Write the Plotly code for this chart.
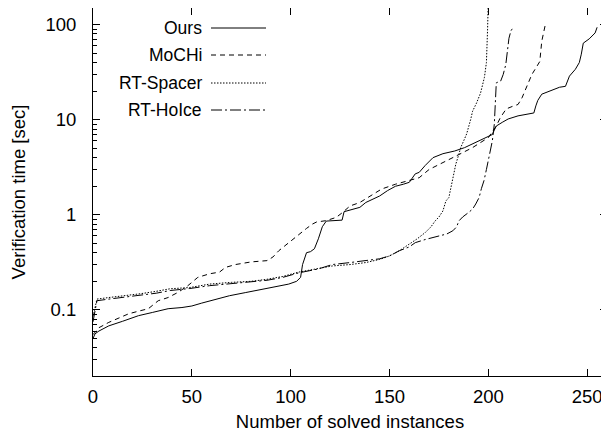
import plotly.graph_objects as go

# ---- data ----
ours_x = [0, 1, 3, 8, 15, 23, 30, 38, 45, 50, 55, 60, 69, 77, 84, 92, 99, 103, 105, 106, 108, 110, 112, 114, 116, 118,
          122, 126, 127, 130, 135, 138, 141, 145, 149, 153, 157, 160, 163, 165, 168, 172, 177, 183, 188, 192, 196, 199,
          202, 203, 204, 207, 210, 215, 219, 223, 224, 225, 227, 232, 236, 239, 240, 241, 244, 246, 247, 248, 251, 254, 255]
ours_y = [0.05, 0.056, 0.06, 0.068, 0.076, 0.087, 0.094, 0.103, 0.106, 0.11, 0.118, 0.126, 0.141, 0.152, 0.163, 0.175,
          0.187, 0.2, 0.22, 0.3, 0.4, 0.41, 0.44, 0.56, 0.75, 0.86, 0.87, 0.88, 1.08, 1.13, 1.2, 1.35, 1.45, 1.58, 1.8,
          2.0, 2.1, 2.2, 2.7, 2.8, 3.3, 4.0, 4.4, 4.7, 5.1, 5.6, 6.1, 6.5, 7.0, 7.8, 8.6, 9.4, 10.2, 11, 11.4, 11.8, 14,
          16, 18.6, 20.5, 22, 22.5, 26, 28.8, 34, 40, 49, 64, 71, 82, 94]

mochi_x = [0, 3, 8, 13, 18, 23, 28, 33, 38, 43, 48, 53, 59, 64, 67, 72, 80, 88, 91, 94, 99, 104, 108, 111, 113, 118,
           123, 126, 130, 135, 141, 146, 153, 160, 165, 170, 175, 180, 185, 192, 196, 200, 202, 204, 206, 209, 212,
           215, 217, 219, 222, 224, 226, 227, 229]
mochi_y = [0.055, 0.065, 0.074, 0.082, 0.091, 0.097, 0.103, 0.125, 0.135, 0.153, 0.18, 0.22, 0.24, 0.25, 0.28, 0.3,
           0.32, 0.33, 0.36, 0.42, 0.51, 0.63, 0.72, 0.8, 0.84, 0.87, 0.94, 1.05, 1.24, 1.35, 1.62, 1.87, 2.1, 2.3,
           2.46, 3.0, 3.4, 3.8, 4.3, 5.1, 5.8, 6.5, 7.5, 8.6, 10.5, 13, 13.8, 14.5, 17, 21.7, 30, 35, 41, 67, 105]

spacer_x = [0, 1, 2, 8, 15, 24, 32, 39, 49, 59, 70, 80, 88, 96, 104, 114, 121, 130, 138, 145, 150, 155, 160, 164, 168,
            171, 173, 175, 177, 178.5, 180, 181, 182, 183.5, 185, 186, 187.5, 189, 191, 192, 194, 196, 198, 199,
            199.6, 200]
spacer_y = [0.085, 0.11, 0.13, 0.135, 0.14, 0.148, 0.157, 0.167, 0.172, 0.187, 0.195, 0.2, 0.21, 0.225, 0.25, 0.27,
            0.29, 0.3, 0.315, 0.34, 0.37, 0.42, 0.49, 0.56, 0.65, 0.75, 0.86, 0.95, 1.1, 1.4, 1.52, 1.9, 2.46, 3.4,
            4.3, 5.1, 6.0, 7.1, 10, 12.3, 15, 19, 28, 40, 90, 200]

hoice_x = [0, 1, 2, 8, 15, 24, 32, 39, 49, 59, 70, 80, 88, 96, 104, 114, 121, 130, 138, 145, 150, 155, 160, 163, 168,
           172, 175, 179, 182, 184, 185, 187, 190, 192, 193.6, 195.3, 196.5, 197.8, 199, 200.3, 201, 202, 203, 203.7,
           204, 205, 206.2, 207.5, 208.8, 210.4, 211.5, 213]
hoice_y = [0.075, 0.1, 0.125, 0.13, 0.135, 0.142, 0.15, 0.16, 0.168, 0.18, 0.19, 0.198, 0.205, 0.22, 0.245, 0.27, 0.3,
           0.315, 0.33, 0.345, 0.37, 0.42, 0.46, 0.51, 0.55, 0.58, 0.6, 0.63, 0.68, 0.75, 0.86, 0.95, 1.06, 1.15, 1.3,
           1.52, 1.9, 2.3, 3.0, 4.0, 5.0, 6.0, 9.0, 15.7, 24.5, 25, 25.5, 30, 38, 72, 88, 92]

series_names = ["Ours", "MoCHi", "RT-Spacer", "RT-HoIce"]
x_ticks = [0, 50, 100, 150, 200, 250]
y_ticks = [0.1, 1, 10, 100]
y_tick_labels = ["0.1", "1", "10", "100"]
y_minor = [m * d for d in (0.01, 0.1, 1, 10) for m in range(2, 10) if 0.02 <= m * d <= 150]

# ---- style ----
FONT = "Liberation Sans, Arial, Helvetica, sans-serif"
FS = 18.5
dashes = ["solid", "5px,4px", "1.5px,1.5px", "11px,3px,2px,3px"]

# the page body has an 8px default margin: figure coordinates = page coordinates - 8
OFF = 8
ML, MR, MT, MB = 93 - OFF, 10, 0, 68
FIG_W, FIG_H = 609, 436
PW = FIG_W - ML - MR
PH = FIG_H - MT - MB

fig = go.Figure()
for name, xs, ys, d in zip(series_names, [ours_x, mochi_x, spacer_x, hoice_x],
                           [ours_y, mochi_y, spacer_y, hoice_y], dashes):
    fig.add_trace(go.Scatter(x=xs, y=ys, mode="lines", name=name,
                             line=dict(color="black", width=1, dash=d), showlegend=False))

# manual gnuplot-style legend (text left, sample right); positions in page pixels
rows_px = [28, 55, 83, 110]
def px_x(p):
    return (p - OFF - ML) / PW
def px_y(p):
    return 1 - (p - OFF - MT) / PH
for name, d, py in zip(series_names, dashes, rows_px):
    yp = px_y(py)
    fig.add_annotation(x=px_x(204), y=yp, xref="paper", yref="paper", text=name, showarrow=False,
                       xanchor="right", yanchor="middle", font=dict(family=FONT, size=17.5, color="black"))
    fig.add_shape(type="line", xref="paper", yref="paper", x0=px_x(211), x1=px_x(266), y0=yp, y1=yp,
                  line=dict(color="black", width=1, dash=d))

axis_common = dict(showline=True, linecolor="black", linewidth=1, mirror="ticks", ticks="inside",
                   tickcolor="black", showgrid=False, zeroline=False,
                   tickfont=dict(family=FONT, size=FS, color="black"))

fig.update_xaxes(range=[0, 260], tickvals=x_ticks, ticklen=7, tickwidth=1, ticklabelstandoff=4,
                 automargin="bottom",
                 title=dict(text="Number of solved instances", font=dict(family=FONT, size=FS, color="black"),
                            standoff=8),
                 **axis_common)
fig.update_yaxes(type="log", range=[-1.695, 2.176], tickvals=y_ticks, ticktext=y_tick_labels, ticklen=7,
                 tickwidth=1, ticklabelstandoff=12, automargin=False,
                 minor=dict(tickvals=y_minor, ticks="inside", ticklen=3.5, tickcolor="black", showgrid=False),
                 title=dict(text="Verification time [sec]", font=dict(family=FONT, size=FS, color="black")),
                 **axis_common)

fig.update_layout(width=FIG_W, height=FIG_H, margin=dict(l=ML, r=MR, t=MT, b=MB, pad=0),
                  plot_bgcolor="white", paper_bgcolor="white",
                  font=dict(family=FONT, size=FS, color="black"))

fig.write_html("out.html")
